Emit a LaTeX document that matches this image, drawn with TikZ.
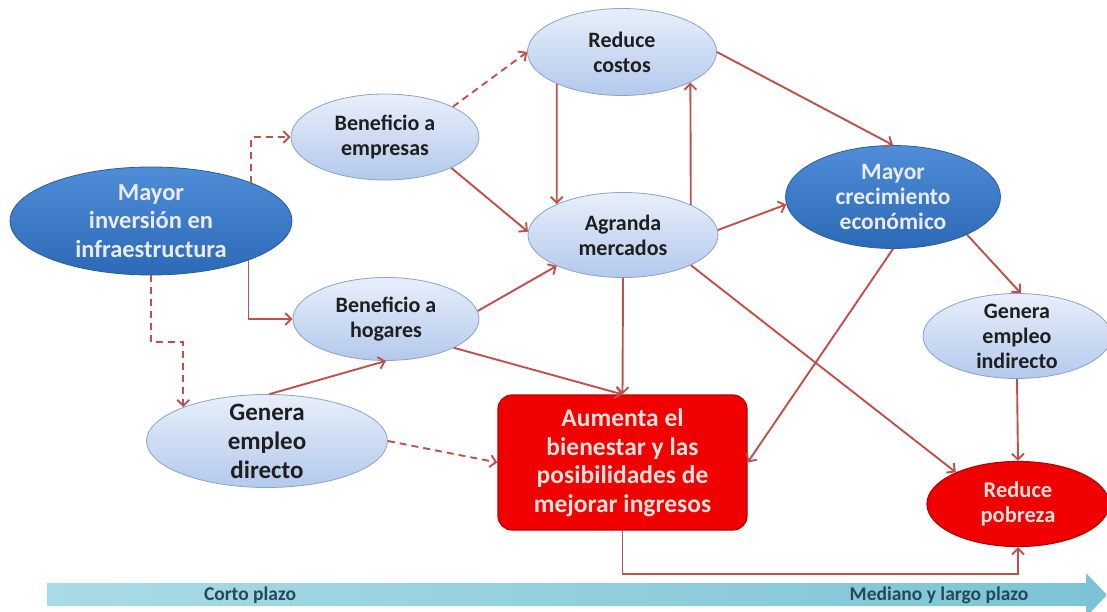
\documentclass[tikz,border=0pt]{standalone}
\usepackage{fontspec}
\setmainfont{Carlito}
\usepackage{tikz}
\usetikzlibrary{arrows.meta, shapes.geometric}

\definecolor{lighttop}{HTML}{E8EFFA}
\definecolor{lightbot}{HTML}{B3C9EC}
\definecolor{lightedge}{HTML}{8AA3C7}
\definecolor{darktop}{HTML}{4F8DD8}
\definecolor{darkbot}{HTML}{2C69B6}
\definecolor{darkedge}{HTML}{2A5D9E}
\definecolor{boxred}{HTML}{F00000}
\definecolor{edgered}{HTML}{B80000}
\definecolor{redtext}{HTML}{FCE2DA}
\definecolor{linkred}{HTML}{C0504D}
\definecolor{barleft}{HTML}{A9DBE6}
\definecolor{barright}{HTML}{7CC3D6}
\definecolor{bartext}{HTML}{234A55}

\begin{document}
\begin{tikzpicture}[x=1pt, y=-1pt,
    lightnode/.style={ellipse, draw=lightedge, line width=0.8pt, top color=lighttop, bottom color=lightbot,
        text=black!88, inner xsep=0pt, inner ysep=-12pt, align=center, font=\bfseries\fontsize{22}{25}\selectfont},
    darknode/.style={ellipse, draw=darkedge, line width=0.8pt, top color=darktop, bottom color=darkbot,
        text=white!92!blue, inner xsep=0pt, inner ysep=-12pt, align=center, font=\bfseries\fontsize{23.5}{25}\selectfont},
    rednode/.style={ellipse, draw=edgered, line width=1.2pt, fill=boxred, text=redtext,
        inner xsep=0pt, inner ysep=-12pt, align=center, font=\bfseries\fontsize{22.5}{25}\selectfont},
    link/.style={draw=linkred, line width=1.9pt, -{Straight Barb[length=6pt, width=12pt]}},
    dlink/.style={link, dash pattern=on 7pt off 5pt}
]

    % === Canvas ===
    \fill[white] (0,0) rectangle (1107,612);
    \useasboundingbox (0,0) rectangle (1107,612);

    % === Time bar ===
    \shade[left color=barleft, right color=barright]
        (47,583) -- (1086,583) -- (1086,573) -- (1107,595) -- (1086,617) -- (1086,606) -- (47,606) -- cycle;
    \node[text=bartext, font=\bfseries\fontsize{19.5}{21}\selectfont] (corto) at (250,595) {Corto plazo};
    \node[text=bartext, font=\bfseries\fontsize{19.5}{21}\selectfont] (largo) at (939,595) {Mediano y largo plazo};

    % === Nodes ===
    \node[darknode, minimum width=282pt, minimum height=108pt, font=\bfseries\fontsize{24.5}{28.5}\selectfont]
        (inv) at (151,221) {Mayor\\inversión en\\infraestructura};
    \node[lightnode, minimum width=188pt, minimum height=86pt] (emp) at (385,137) {Beneficio a\\empresas};
    \node[lightnode, minimum width=189pt, minimum height=87pt] (cost) at (622,52) {Reduce\\costos};
    \node[lightnode, minimum width=190pt, minimum height=85pt] (merc) at (623,235) {Agranda\\mercados};
    \node[lightnode, minimum width=186pt, minimum height=83pt] (hog) at (386,319) {Beneficio a\\hogares};
    \node[lightnode, minimum width=241pt, minimum height=93pt, font=\bfseries\fontsize{25}{29}\selectfont]
        (dir) at (267,441) {Genera\\empleo\\directo};
    \node[darknode, minimum width=215pt, minimum height=103pt] (crec) at (893,197) {Mayor\\crecimiento\\económico};
    \node[lightnode, minimum width=188pt, minimum height=85pt] (indir) at (1017,336) {Genera\\empleo\\indirecto};
    \node[rednode, minimum width=182pt, minimum height=85pt] (pob) at (1018,504) {Reduce\\pobreza};
    \node[draw=edgered, line width=1.2pt, fill=boxred, rounded corners=14pt, minimum width=249pt, minimum height=135pt,
        text=redtext, align=center, font=\bfseries\fontsize{25.5}{28.5}\selectfont]
        (bien) at (622.5,462.5) {Aumenta el\\bienestar y las\\posibilidades de\\mejorar ingresos};

    % === Dashed links ===
    \draw[dlink] (inv.21) |- (emp.west);
    \draw[dlink] (inv.south) -- ++(0,67) -| (dir.158);
    \draw[dlink] (emp.24) -- (cost.west);
    \draw[dlink] (dir.east) -- (bien.west);

    % === Solid links ===
    \draw[link] (inv.-22) |- (hog.west);
    \draw[link] (emp.-25) -- (merc.178);
    \draw[link] (hog.5) -- (merc.205);
    \draw[link] (hog.-23) -- (bien.north);
    \draw[link] (dir.87) -- (hog.south);
    \draw[link] (cost.206) -- (merc.155);
    \draw[link] (merc.24) -- (cost.-24);
    \draw[link] (cost.east) -- (crec.north);
    \draw[link] (merc.3) -- (crec.184);
    \draw[link] (merc.south) -- (bien.north);
    \draw[link] (merc.-24) -- (pob.153);
    \draw[link] (crec.south) -- (bien.east);
    \draw[link] (crec.-27) -- (indir.85);
    \draw[link] (indir.south) -- (pob.north);
    \draw[link] (bien.south) -- ++(0,43) -| (pob.south);

\end{tikzpicture}
\end{document}
